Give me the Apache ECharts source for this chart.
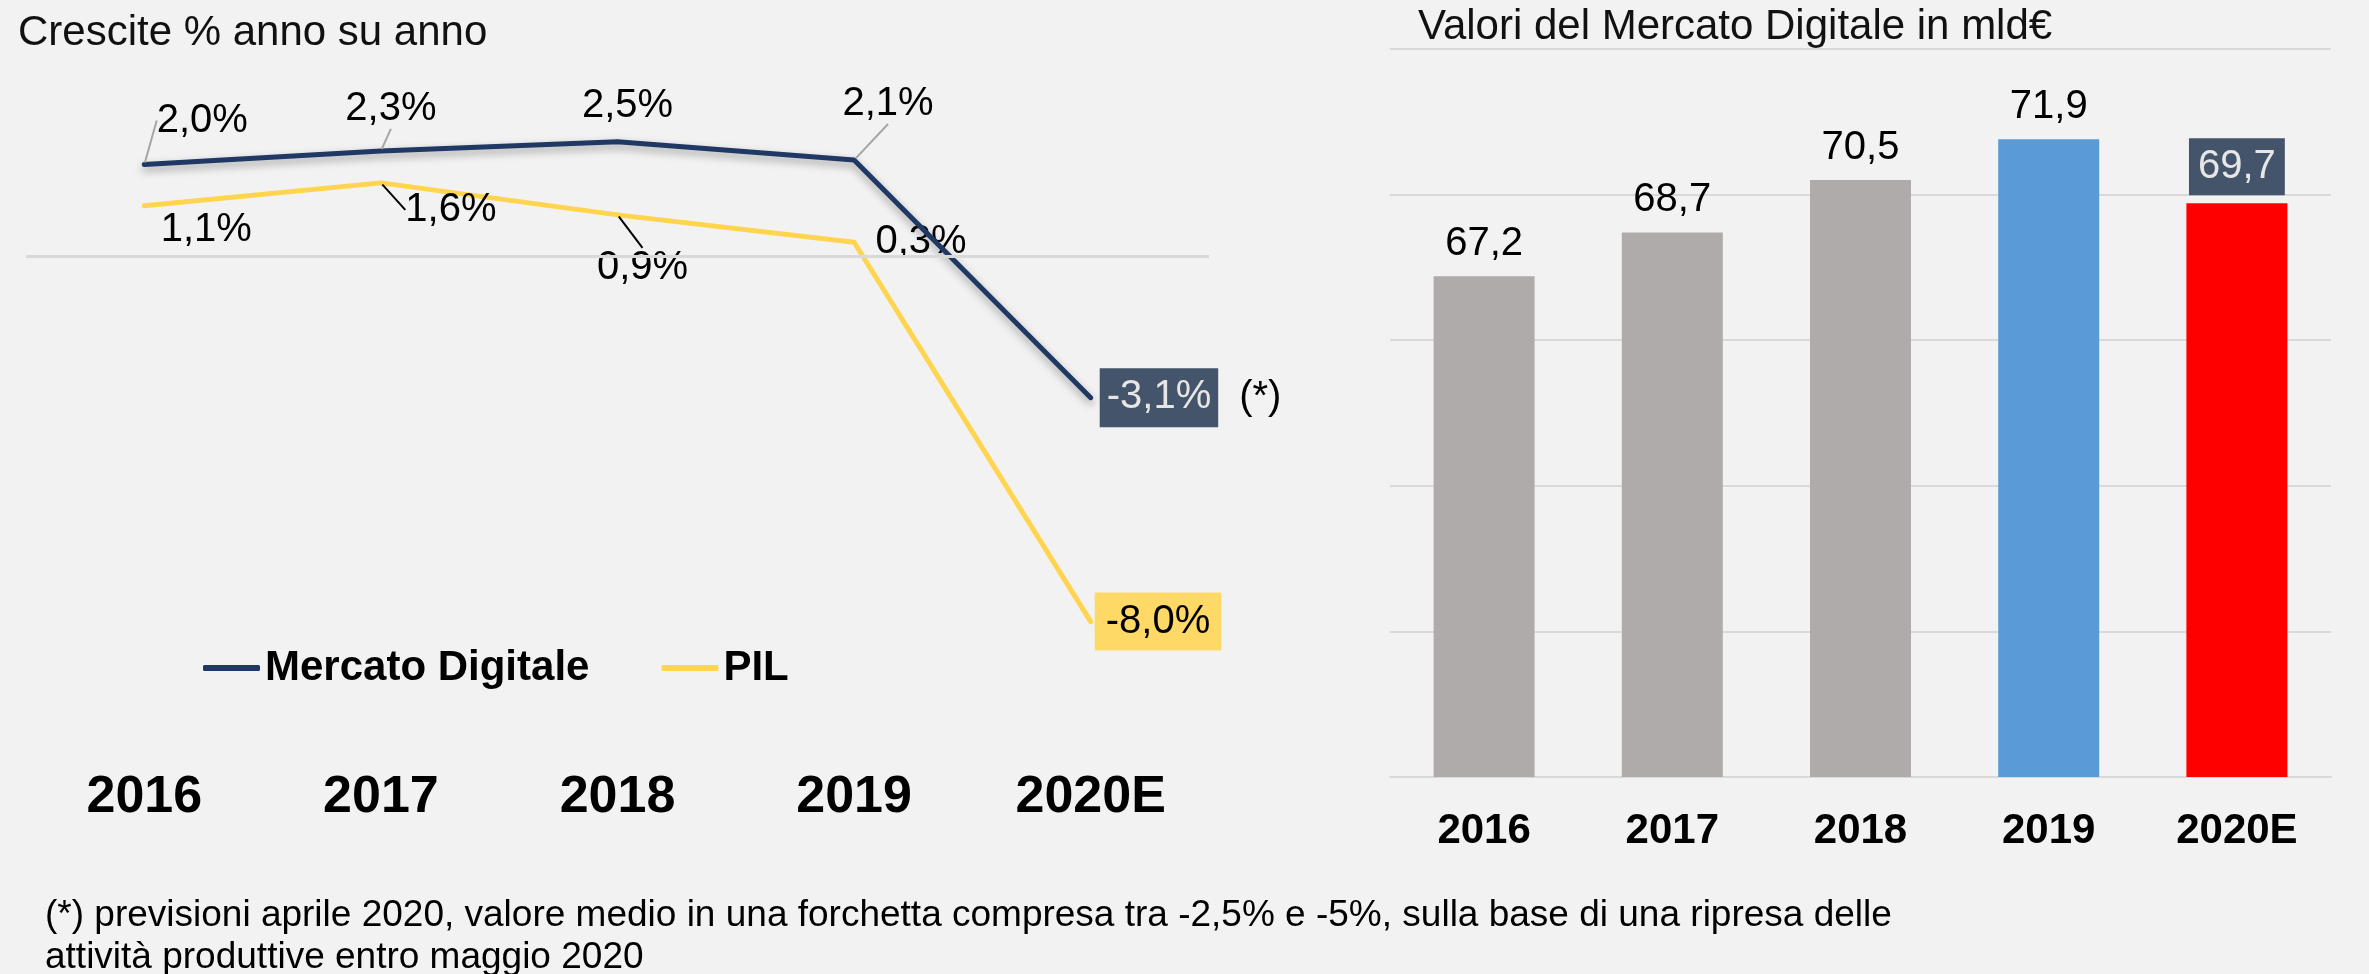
<!DOCTYPE html>
<html>
<head>
<meta charset="utf-8">
<script src="https://cdn.jsdelivr.net/npm/echarts@6/dist/echarts.min.js"></script>
<style>
  html, body { margin: 0; padding: 0; background: #F2F2F2; }
  #chart { width: 2369px; height: 974px; }
</style>
</head>
<body>
<div id="chart"></div>
<script>
// ---- data ----
const years = ['2016', '2017', '2018', '2019', '2020E'];
const mercatoDigitale = [2.0, 2.3, 2.5, 2.1, -3.1];
const pil = [1.1, 1.6, 0.9, 0.3, -8.0];
const marketValues = [67.2, 68.7, 70.5, 71.9, 69.7];
const leftTitle = 'Crescite % anno su anno';
const rightTitle = 'Valori del Mercato Digitale in mld€';
const forecastNote = '(*)';
const footnote = '(*) previsioni aprile 2020, valore medio in una forchetta compresa tra -2,5% e -5%, sulla base di una ripresa delle\nattività produttive entro maggio 2020';

// ---- styles ----
const FONT = '"Liberation Sans", Arial, sans-serif';
const NAVY = '#203864';
const YELLOW = '#FFD44F';
const BAR_COLORS = ['#AFABAB', '#AFABAB', '#AFABAB', '#5B9BD5', '#FF0000'];
const GRID_GRAY = '#D9D9D9';
const mercatoOffsets = [[58, -44], [10, -42], [10, -36], [34, -56]];
const pilOffsets = [[62, 24], [70, 27], [25, 53], [67, 0]];
const mercatoLeader = [true, true, false, true];
const pilLeader = [false, true, true, false];
const mercatoLeaderColor = '#A6A6A6';
const pilLeaderColor = '#000';

const fmt = v => v.toFixed(1).replace('.', ',');
const pct = v => fmt(v) + '%';

function lineData(values, leaders, leaderColor, lastLabel) {
  return values.map((v, i) => {
    if (i === values.length - 1) {
      return { value: v, label: lastLabel, labelLine: { show: false } };
    }
    return {
      value: v,
      label: { show: true, position: 'inside' },
      labelLine: { show: leaders[i], lineStyle: { color: leaderColor, width: 2 } }
    };
  });
}

function layoutFor(offsets) {
  return params => {
    const off = offsets[params.dataIndex];
    if (!off) return {};
    return { dx: off[0], dy: off[1] };
  };
}

const mercatoData = lineData(mercatoDigitale, mercatoLeader, mercatoLeaderColor,
  {
    show: true, position: 'right', distance: 7, offset: [0, -1],
    formatter: p => '{box|' + pct(p.value) + '}{note|' + forecastNote + '}',
    rich: {
      box: { backgroundColor: '#44546A', color: '#E7E6E6', fontSize: 40, fontFamily: FONT, padding: [9, 7, 10, 7] },
      note: { color: '#000', fontSize: 40, fontFamily: FONT, padding: [0, 0, 0, 21] }
    }
  });
const pilData = lineData(pil, pilLeader, pilLeaderColor,
  {
    show: true, position: 'right', distance: 2, offset: [0, -2],
    formatter: p => pct(p.value),
    backgroundColor: '#FFD966', color: '#000', padding: [9, 11, 9, 11]
  });

const barData = marketValues.map((v, i) => {
  const item = { value: v, itemStyle: { color: BAR_COLORS[i] } };
  if (i === marketValues.length - 1) {
    item.label = {
      backgroundColor: '#44546A', color: '#E7E6E6', padding: [9, 9, 8, 9], distance: 8
    };
  }
  return item;
});

const chart = echarts.init(document.getElementById('chart'), null, { renderer: 'canvas' });
chart.setOption({
  backgroundColor: '#F2F2F2',
  animation: false,
  textStyle: { fontFamily: FONT },
  title: [
    { text: leftTitle, left: 18, top: 12, padding: 0,
      textStyle: { fontSize: 42, fontWeight: 'normal', color: '#111', fontFamily: FONT } },
    { text: rightTitle, left: 1418, top: 6, padding: 0,
      textStyle: { fontSize: 42, fontWeight: 'normal', color: '#111', fontFamily: FONT } }
  ],
  legend: {
    data: ['Mercato Digitale', 'PIL'],
    left: 203, top: 647, padding: 0,
    icon: 'roundRect', itemWidth: 57, itemHeight: 6, itemGap: 72,
    textStyle: { fontSize: 42, fontWeight: 'bold', color: '#000', fontFamily: FONT },
    selectedMode: false
  },
  grid: [
    { left: 26, width: 1183, top: 27.5, height: 685.5 },
    { left: 1390, width: 941, top: 49, height: 728 }
  ],
  xAxis: [
    { type: 'category', gridIndex: 0, data: years, boundaryGap: true,
      axisLine: { show: false }, axisTick: { show: false },
      axisLabel: { fontSize: 52, fontWeight: 'bold', color: '#000', margin: 59, fontFamily: FONT } },
    { type: 'category', gridIndex: 1, data: years,
      axisLine: { lineStyle: { color: GRID_GRAY, width: 2 } }, axisTick: { show: false },
      axisLabel: { fontSize: 42, fontWeight: 'bold', color: '#000', margin: 33, fontFamily: FONT } }
  ],
  yAxis: [
    { type: 'value', gridIndex: 0, min: -10, max: 5, interval: 5,
      axisLine: { show: false }, axisTick: { show: false }, axisLabel: { show: false },
      splitLine: { show: false } },
    { type: 'value', gridIndex: 1, min: 50, max: 75, interval: 5,
      axisLine: { show: false }, axisTick: { show: false }, axisLabel: { show: false },
      splitLine: { lineStyle: { color: GRID_GRAY, width: 2 } } }
  ],
  series: [
    {
      name: 'PIL', type: 'line', xAxisIndex: 0, yAxisIndex: 0,
      data: pilData,
      symbol: 'circle', symbolSize: 4, showSymbol: true,
      itemStyle: { color: YELLOW },
      lineStyle: { color: YELLOW, width: 5, cap: 'round', join: 'round' },
      label: { show: true, formatter: p => pct(p.value), fontSize: 40, color: '#000', fontFamily: FONT },
      labelLine: { show: false },
      labelLayout: layoutFor(pilOffsets),
      emphasis: { disabled: true },
      z: 3,
      markLine: {
        silent: true, symbol: 'none', animation: false,
        label: { show: false },
        lineStyle: { color: GRID_GRAY, width: 3, type: 'solid' },
        data: [{ yAxis: 0 }]
      }
    },
    {
      name: 'Mercato Digitale', type: 'line', xAxisIndex: 0, yAxisIndex: 0,
      data: mercatoData,
      symbol: 'circle', symbolSize: 4, showSymbol: true,
      itemStyle: { color: NAVY },
      lineStyle: { color: NAVY, width: 5, cap: 'round', join: 'round',
        shadowColor: 'rgba(0,0,0,0.35)', shadowBlur: 8, shadowOffsetY: 4 },
      label: { show: true, formatter: p => pct(p.value), fontSize: 40, color: '#000', fontFamily: FONT },
      labelLine: { show: false },
      labelLayout: layoutFor(mercatoOffsets),
      emphasis: { disabled: true },
      z: 4
    },
    {
      name: 'Valori', type: 'bar', xAxisIndex: 1, yAxisIndex: 1,
      data: barData, barWidth: 101,
      label: { show: true, position: 'top', distance: 12, fontSize: 40, color: '#000',
        fontFamily: FONT, formatter: p => fmt(p.value) },
      emphasis: { disabled: true }
    }
  ],
  graphic: [
    { type: 'text', left: 45, top: 895,
      style: { text: footnote, fontSize: 37, fontFamily: FONT, lineHeight: 42, fill: '#000' } }
  ]
});
</script>
</body>
</html>
